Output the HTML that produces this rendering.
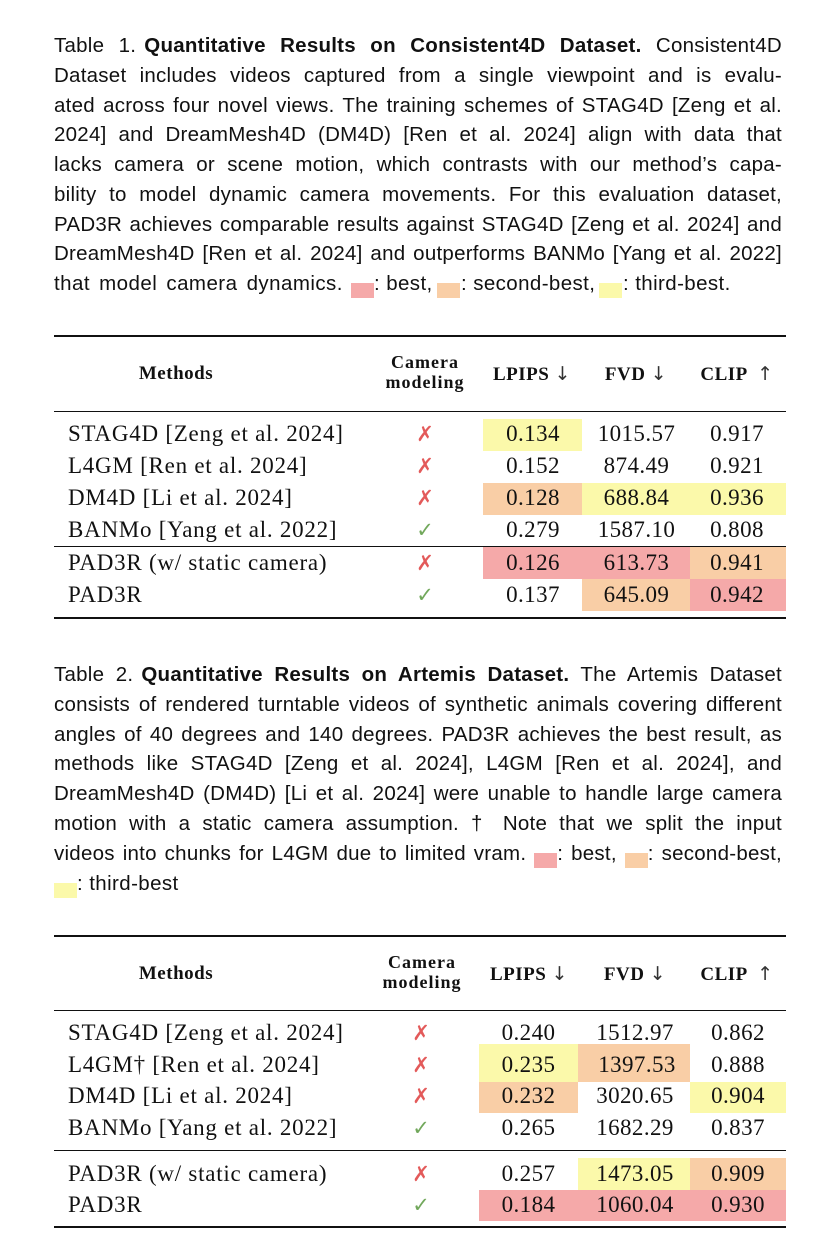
<!DOCTYPE html>
<html><head><meta charset="utf-8"><style>
html,body{margin:0;padding:0;background:#fff;}
body{width:836px;height:1255px;position:relative;overflow:hidden;color:#111;}
.cap{position:absolute;left:54px;width:728px;height:30px;line-height:30px;font-family:"Liberation Sans",sans-serif;font-size:20.5px;white-space:normal;}
.j{text-align:justify;text-align-last:justify;word-spacing:-2px;letter-spacing:0.25px;}
.seg{position:absolute;height:30px;line-height:30px;font-family:"Liberation Sans",sans-serif;font-size:20.5px;white-space:nowrap;letter-spacing:0.4px;}
.sq{display:inline-block;width:23px;height:15px;vertical-align:-8px;}
.asq{position:absolute;width:23px;height:15px;}
.P{background:#f5a9a9;}
.O{background:#f9cea6;}
.Y{background:#fbf9aa;}
.rule{position:absolute;left:54px;width:732px;background:#111;}
.hl{position:absolute;}
.m{position:absolute;left:68px;height:32px;line-height:32px;font-family:"Liberation Serif",serif;font-size:23px;letter-spacing:0.75px;white-space:nowrap;}
.n{position:absolute;width:120px;height:32px;line-height:32px;text-align:center;font-family:"Liberation Serif",serif;font-size:23px;letter-spacing:0.4px;white-space:nowrap;}
.x{position:absolute;width:40px;height:32px;line-height:32px;text-align:center;font-family:"DejaVu Sans",sans-serif;font-size:21px;color:#e35a5a;}
.c{position:absolute;width:40px;height:32px;line-height:32px;text-align:center;font-family:"DejaVu Sans",sans-serif;font-size:21px;color:#72a85c;}
.h{position:absolute;height:20px;line-height:20px;text-align:center;font-family:"Liberation Serif",serif;font-weight:bold;font-size:19px;letter-spacing:0.5px;white-space:nowrap;}
.h2{position:absolute;height:20px;line-height:20px;text-align:center;font-family:"Liberation Serif",serif;font-weight:bold;font-size:18px;letter-spacing:1px;white-space:nowrap;}
.ar{font-family:"DejaVu Sans",sans-serif;font-weight:normal;font-size:19px;color:#333;}
</style></head><body>

<!-- Caption 1 -->
<div class="cap j" style="top:31px;"><span style="margin-right:8px;">Table 1.</span><b>Quantitative Results on Consistent4D Dataset.</b> Consistent4D</div>
<div class="cap j" style="top:60.75px;">Dataset includes videos captured from a single viewpoint and is evalu-</div>
<div class="cap j" style="top:90.5px;">ated across four novel views. The training schemes of STAG4D [Zeng et al.</div>
<div class="cap j" style="top:120.25px;">2024] and DreamMesh4D (DM4D) [Ren et al. 2024] align with data that</div>
<div class="cap j" style="top:150px;">lacks camera or scene motion, which contrasts with our method’s capa-</div>
<div class="cap j" style="top:179.75px;">bility to model dynamic camera movements. For this evaluation dataset,</div>
<div class="cap j" style="top:209.5px;">PAD3R achieves comparable results against STAG4D [Zeng et al. 2024] and</div>
<div class="cap j" style="top:239.25px;">DreamMesh4D [Ren et al. 2024] and outperforms BANMo [Yang et al. 2022]</div>
<div class="seg" style="top:269px;left:54px;letter-spacing:0.45px;word-spacing:3px;">that model camera dynamics.</div>
<div class="asq P" style="left:351px;top:283px;"></div>
<div class="seg" style="top:269px;left:374px;">: best,</div>
<div class="asq O" style="left:437px;top:283px;"></div>
<div class="seg" style="top:269px;left:461px;">: second-best,</div>
<div class="asq Y" style="left:599px;top:283px;"></div>
<div class="seg" style="top:269px;left:623px;">: third-best.</div>

<!-- Table 1 -->
<div class="rule" style="top:335px;height:2px;"></div>
<div class="rule" style="top:411px;height:1px;"></div>
<div class="rule" style="top:546px;height:1px;"></div>
<div class="rule" style="top:617px;height:2px;"></div>

<div class="hl Y" style="left:483px;top:419px;width:99px;height:32px;"></div>
<div class="hl O" style="left:483px;top:483px;width:99px;height:32px;"></div>
<div class="hl Y" style="left:582px;top:483px;width:108px;height:32px;"></div>
<div class="hl Y" style="left:690px;top:483px;width:96px;height:32px;"></div>
<div class="hl P" style="left:483px;top:547px;width:99px;height:32px;"></div>
<div class="hl P" style="left:582px;top:547px;width:108px;height:32px;"></div>
<div class="hl O" style="left:690px;top:547px;width:96px;height:32px;"></div>
<div class="hl O" style="left:582px;top:579px;width:108px;height:32px;"></div>
<div class="hl P" style="left:690px;top:579px;width:96px;height:32px;"></div>

<div class="h" style="left:116px;width:120px;top:363.6px;">Methods</div>
<div class="h2" style="left:365px;width:120px;top:352px;">Camera</div>
<div class="h2" style="left:365px;width:120px;top:372px;">modeling</div>
<div class="h" style="left:472px;width:120px;top:363.6px;">LPIPS <span class="ar">↓</span></div>
<div class="h" style="left:576px;width:120px;top:363.6px;">FVD <span class="ar">↓</span></div>
<div class="h" style="left:677px;width:120px;top:363.6px;">CLIP &nbsp;<span class="ar">↑</span></div>

<div class="m" style="top:418px;">STAG4D [Zeng et al. 2024]</div>
<div class="x" style="left:405px;top:418px;">✗</div>
<div class="n" style="left:473px;top:418px;">0.134</div>
<div class="n" style="left:576.5px;top:418px;">1015.57</div>
<div class="n" style="left:677px;top:418px;">0.917</div>

<div class="m" style="top:450px;">L4GM [Ren et al. 2024]</div>
<div class="x" style="left:405px;top:450px;">✗</div>
<div class="n" style="left:473px;top:450px;">0.152</div>
<div class="n" style="left:576.5px;top:450px;">874.49</div>
<div class="n" style="left:677px;top:450px;">0.921</div>

<div class="m" style="top:482px;">DM4D [Li et al. 2024]</div>
<div class="x" style="left:405px;top:482px;">✗</div>
<div class="n" style="left:473px;top:482px;">0.128</div>
<div class="n" style="left:576.5px;top:482px;">688.84</div>
<div class="n" style="left:677px;top:482px;">0.936</div>

<div class="m" style="top:514px;">BANMo [Yang et al. 2022]</div>
<div class="c" style="left:405px;top:514px;">✓</div>
<div class="n" style="left:473px;top:514px;">0.279</div>
<div class="n" style="left:576.5px;top:514px;">1587.10</div>
<div class="n" style="left:677px;top:514px;">0.808</div>

<div class="m" style="top:547px;">PAD3R (w/ static camera)</div>
<div class="x" style="left:405px;top:547px;">✗</div>
<div class="n" style="left:473px;top:547px;">0.126</div>
<div class="n" style="left:576.5px;top:547px;">613.73</div>
<div class="n" style="left:677px;top:547px;">0.941</div>

<div class="m" style="top:579px;">PAD3R</div>
<div class="c" style="left:405px;top:579px;">✓</div>
<div class="n" style="left:473px;top:579px;">0.137</div>
<div class="n" style="left:576.5px;top:579px;">645.09</div>
<div class="n" style="left:677px;top:579px;">0.942</div>

<!-- Caption 2 -->
<div class="cap j" style="top:659.7px;"><span style="margin-right:8px;">Table 2.</span><b>Quantitative Results on Artemis Dataset.</b> The Artemis Dataset</div>
<div class="cap j" style="top:689.6px;">consists of rendered turntable videos of synthetic animals covering different</div>
<div class="cap j" style="top:719.5px;">angles of 40 degrees and 140 degrees. PAD3R achieves the best result, as</div>
<div class="cap j" style="top:749.4px;">methods like STAG4D [Zeng et al. 2024], L4GM [Ren et al. 2024], and</div>
<div class="cap j" style="top:779.3px;">DreamMesh4D (DM4D) [Li et al. 2024] were unable to handle large camera</div>
<div class="cap j" style="top:809.2px;">motion with a static camera assumption. † Note that we split the input</div>
<div class="cap j" style="top:839.1px;">videos into chunks for L4GM due to limited vram. <span class="sq P"></span>: best, <span class="sq O"></span>: second-best,</div>
<div class="asq Y" style="left:54px;top:883px;"></div>
<div class="seg" style="top:869px;left:77px;">: third-best</div>

<!-- Table 2 -->
<div class="rule" style="top:935px;height:2px;"></div>
<div class="rule" style="top:1010px;height:1px;"></div>
<div class="rule" style="top:1150px;height:1px;"></div>
<div class="rule" style="top:1226px;height:2px;"></div>

<div class="hl Y" style="left:479px;top:1044px;width:99px;height:38px;"></div>
<div class="hl O" style="left:578px;top:1044px;width:112px;height:38px;"></div>
<div class="hl O" style="left:479px;top:1082px;width:99px;height:31px;"></div>
<div class="hl Y" style="left:690px;top:1082px;width:96px;height:31px;"></div>
<div class="hl Y" style="left:578px;top:1158px;width:112px;height:32px;"></div>
<div class="hl O" style="left:690px;top:1158px;width:96px;height:32px;"></div>
<div class="hl P" style="left:479px;top:1190px;width:307px;height:31px;"></div>

<div class="h" style="left:116px;width:120px;top:963.6px;">Methods</div>
<div class="h2" style="left:362px;width:120px;top:952px;">Camera</div>
<div class="h2" style="left:362px;width:120px;top:972px;">modeling</div>
<div class="h" style="left:469px;width:120px;top:963.6px;">LPIPS <span class="ar">↓</span></div>
<div class="h" style="left:575px;width:120px;top:963.6px;">FVD <span class="ar">↓</span></div>
<div class="h" style="left:677px;width:120px;top:963.6px;">CLIP &nbsp;<span class="ar">↑</span></div>

<div class="m" style="top:1017px;">STAG4D [Zeng et al. 2024]</div>
<div class="x" style="left:401px;top:1017px;">✗</div>
<div class="n" style="left:468.5px;top:1017px;">0.240</div>
<div class="n" style="left:575px;top:1017px;">1512.97</div>
<div class="n" style="left:678px;top:1017px;">0.862</div>

<div class="m" style="top:1049px;">L4GM† [Ren et al. 2024]</div>
<div class="x" style="left:401px;top:1049px;">✗</div>
<div class="n" style="left:468.5px;top:1049px;">0.235</div>
<div class="n" style="left:577px;top:1049px;">1397.53</div>
<div class="n" style="left:678px;top:1049px;">0.888</div>

<div class="m" style="top:1080px;">DM4D [Li et al. 2024]</div>
<div class="x" style="left:401px;top:1080px;">✗</div>
<div class="n" style="left:468.5px;top:1080px;">0.232</div>
<div class="n" style="left:575px;top:1080px;">3020.65</div>
<div class="n" style="left:678px;top:1080px;">0.904</div>

<div class="m" style="top:1112px;">BANMo [Yang et al. 2022]</div>
<div class="c" style="left:401px;top:1112px;">✓</div>
<div class="n" style="left:468.5px;top:1112px;">0.265</div>
<div class="n" style="left:575px;top:1112px;">1682.29</div>
<div class="n" style="left:678px;top:1112px;">0.837</div>

<div class="m" style="top:1158px;">PAD3R (w/ static camera)</div>
<div class="x" style="left:401px;top:1158px;">✗</div>
<div class="n" style="left:468.5px;top:1158px;">0.257</div>
<div class="n" style="left:575px;top:1158px;">1473.05</div>
<div class="n" style="left:678px;top:1158px;">0.909</div>

<div class="m" style="top:1189px;">PAD3R</div>
<div class="c" style="left:401px;top:1189px;">✓</div>
<div class="n" style="left:468.5px;top:1189px;">0.184</div>
<div class="n" style="left:575px;top:1189px;">1060.04</div>
<div class="n" style="left:678px;top:1189px;">0.930</div>

</body></html>
